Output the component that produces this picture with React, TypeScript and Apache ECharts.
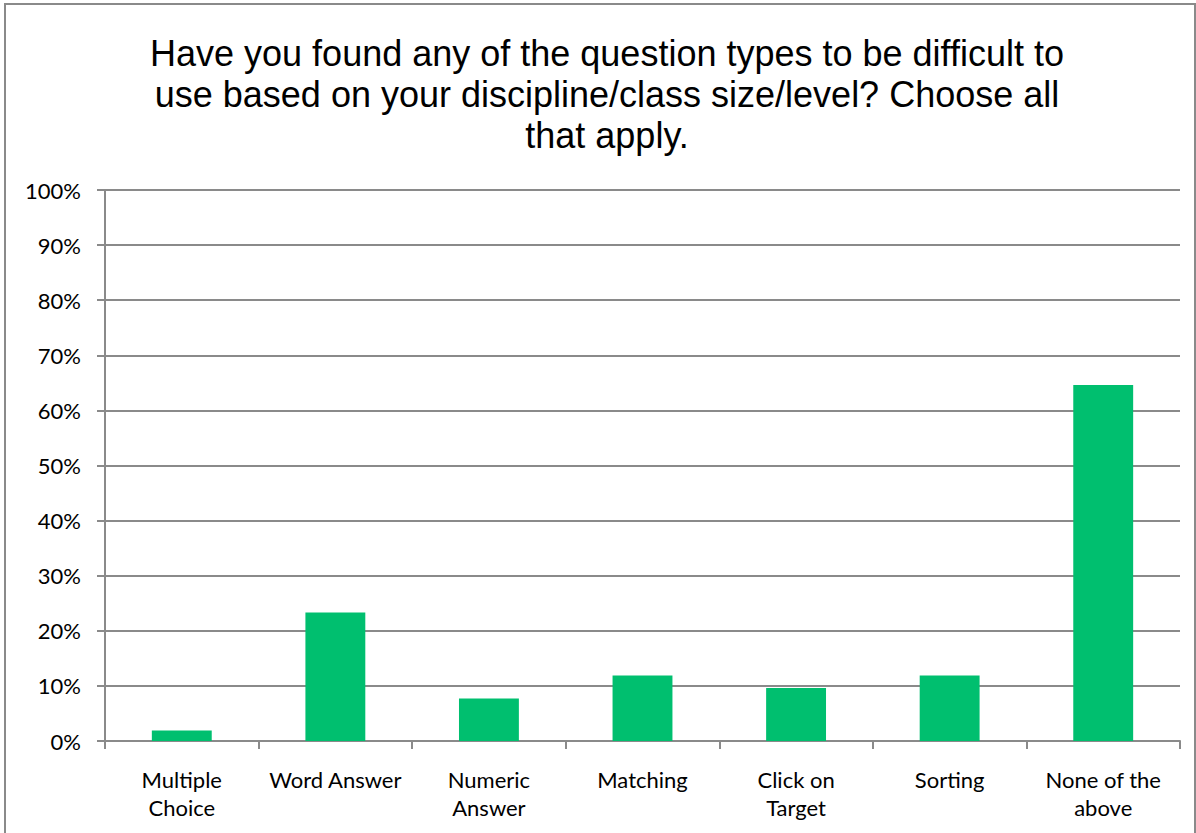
import React, { useEffect, useRef } from "react";
import * as echarts from "echarts";

const categories = [
  "Multiple\nChoice",
  "Word Answer",
  "Numeric\nAnswer",
  "Matching",
  "Click on\nTarget",
  "Sorting",
  "None of the\nabove",
];
const values = [1.9, 23.3, 7.7, 11.9, 9.6, 11.9, 64.6];
const titleText =
  "Have you found any of the question types to be difficult to\nuse based on your discipline/class size/level? Choose all\nthat apply.";

export default function App() {
  const ref = useRef<HTMLDivElement>(null);
  useEffect(() => {
    document.body.style.margin = "0";
    const chart = echarts.init(ref.current!, null, { renderer: "svg" });
    const gray = "#8a8a8a";
    chart.setOption({
      animation: false,
      backgroundColor: "#ffffff",
      title: {
        text: titleText,
        left: 602,
        top: 28,
        textAlign: "center",
        textStyle: {
          fontFamily: "Liberation Sans, Arial, sans-serif",
          fontSize: 36,
          fontWeight: "normal",
          lineHeight: 41,
          color: "#000",
        },
      },
      graphic: [
        {
          type: "rect",
          shape: { x: 5, y: 4, width: 1190, height: 840 },
          style: { fill: "none", stroke: gray, lineWidth: 2 },
          silent: true,
        },
      ],
      grid: { left: 105, right: 16, top: 190, bottom: 92, containLabel: false },
      xAxis: {
        type: "category",
        data: categories,
        axisLine: { lineStyle: { color: gray, width: 2 } },
        axisTick: { show: true, length: 8, lineStyle: { color: gray, width: 2 } },
        axisLabel: {
          interval: 0,
          margin: 24,
          fontFamily: "Lato, Carlito, Calibri, sans-serif",
          fontSize: 22,
          lineHeight: 28,
          color: "#000",
        },
      },
      yAxis: {
        type: "value",
        min: 0,
        max: 100,
        interval: 10,
        axisLine: { show: true, lineStyle: { color: gray, width: 2 } },
        axisTick: { show: true, length: 8, lineStyle: { color: gray, width: 2 } },
        splitLine: { lineStyle: { color: gray, width: 2 } },
        axisLabel: {
          formatter: "{value}%",
          margin: 24,
          fontFamily: "Lato, Carlito, Calibri, sans-serif",
          fontSize: 22,
          color: "#000",
        },
      },
      series: [
        {
          type: "bar",
          data: values,
          barWidth: "39%",
          itemStyle: { color: "#00BF6F" },
        },
      ],
    });
    return () => chart.dispose();
  }, []);
  return <div ref={ref} style={{ width: 1196, height: 833 }} />;
}
